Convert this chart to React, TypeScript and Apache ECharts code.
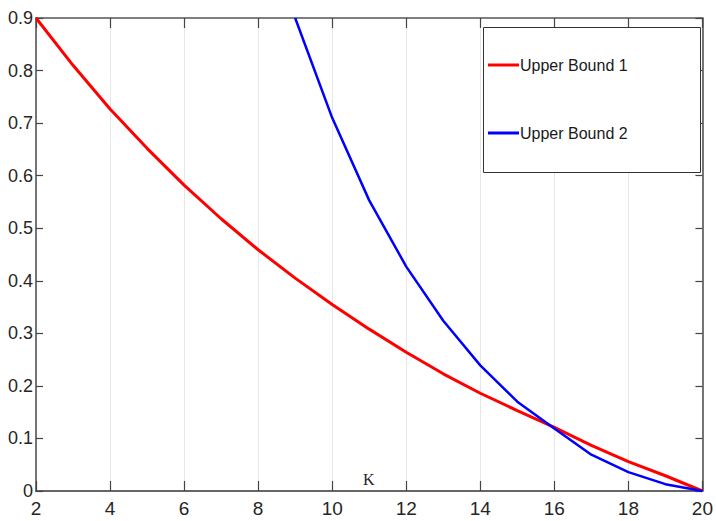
import React, { useEffect, useRef } from "react";
import * as echarts from "echarts";

const kValues = [2, 3, 4, 5, 6, 7, 8, 9, 10, 11, 12, 13, 14, 15, 16, 17, 18, 19, 20];
const upperBound1 = [0.9, 0.81, 0.727, 0.652, 0.582, 0.518, 0.459, 0.405, 0.355, 0.308, 0.264, 0.223, 0.186, 0.153, 0.121, 0.087, 0.056, 0.029, 0.0];
const blueK = [9, 10, 11, 12, 13, 14, 15, 16, 17, 18, 19, 20];
const upperBound2 = [0.9, 0.71, 0.553, 0.427, 0.324, 0.239, 0.17, 0.119, 0.069, 0.036, 0.013, 0.0];
const yTickLabels = ["0", "0.1", "0.2", "0.3", "0.4", "0.5", "0.6", "0.7", "0.8", "0.9"];
const seriesNames = ["Upper Bound 1", "Upper Bound 2"];
const xTitle = "K";

const FONT = "'Liberation Sans', Arial, sans-serif";

export default function App() {
  const ref = useRef<HTMLDivElement>(null);
  useEffect(() => {
    if (!ref.current) return;
    const chart = echarts.init(ref.current, null, { renderer: "svg" });
    const axisLineStyle = { color: "#555555", width: 1.6 };
    chart.setOption({
      animation: false,
      backgroundColor: "#ffffff",
      grid: { left: 36, right: 11, top: 18, bottom: 30, containLabel: false },
      xAxis: [
        {
          type: "value",
          min: 2,
          max: 20,
          interval: 2,
          axisLine: { show: true, onZero: false, lineStyle: { color: "#666666", width: 2 } },
          axisTick: { show: true, inside: true, length: 10, lineStyle: { color: "#444444", width: 1.2 } },
          axisLabel: { color: "#262626", fontFamily: FONT, fontSize: 19, margin: 8 },
          splitLine: { show: true, lineStyle: { color: "#e6e6e6", width: 1 } },
        },
        {
          type: "value",
          position: "top",
          min: 2,
          max: 20,
          interval: 2,
          axisLine: { show: true, onZero: false, lineStyle: axisLineStyle },
          axisTick: { show: true, inside: true, length: 10, lineStyle: { color: "#444444", width: 1.2 } },
          axisLabel: { show: false },
          splitLine: { show: false },
        },
      ],
      yAxis: [
        {
          type: "value",
          min: 0,
          max: 0.9,
          interval: 0.1,
          axisLine: { show: true, onZero: false, lineStyle: axisLineStyle },
          axisTick: { show: true, inside: true, length: 7, lineStyle: { color: "#444444", width: 1.2 } },
          axisLabel: {
            color: "#262626",
            fontFamily: FONT,
            fontSize: 18,
            margin: 3,
            formatter: (v: number) => yTickLabels[Math.round(v * 10)] ?? "",
          },
          splitLine: { show: false },
        },
        {
          type: "value",
          position: "right",
          min: 0,
          max: 0.9,
          interval: 0.1,
          axisLine: { show: true, onZero: false, lineStyle: axisLineStyle },
          axisTick: { show: true, inside: true, length: 7, lineStyle: { color: "#444444", width: 1.2 } },
          axisLabel: { show: false },
          splitLine: { show: false },
        },
      ],
      legend: {
        orient: "vertical",
        left: 488,
        top: 55,
        padding: 0,
        itemGap: 48,
        z: 100,
        zlevel: 0,
        icon: "rect",
        itemWidth: 31,
        itemHeight: 3,
        textStyle: { color: "#1a1a1a", fontFamily: FONT, fontSize: 16, lineHeight: 20, padding: [0, 0, 0, -4] },
        data: seriesNames,
      },
      graphic: [
        {
          type: "rect",
          left: 483,
          top: 27,
          z: 50,
          shape: { width: 217, height: 145 },
          style: { fill: "#ffffff", stroke: "#333333", lineWidth: 1 },
        },
        {
          type: "text",
          left: 363,
          top: 471,
          z: 60,
          style: { text: xTitle, fill: "#262626", font: "16px 'Liberation Serif', 'Times New Roman', serif" },
        },
      ],
      series: [
        {
          name: seriesNames[0],
          type: "line",
          data: kValues.map((k, i) => [k, upperBound1[i]]),
          symbol: "none",
          smooth: false,
          lineStyle: { color: "#ff0000", width: 3 },
          itemStyle: { color: "#ff0000" },
          z: 3,
        },
        {
          name: seriesNames[1],
          type: "line",
          data: blueK.map((k, i) => [k, upperBound2[i]]),
          symbol: "none",
          smooth: false,
          lineStyle: { color: "#0000ff", width: 2.5 },
          itemStyle: { color: "#0000ff" },
          z: 4,
        },
      ],
    });
    return () => chart.dispose();
  }, []);
  return (
    <div
      ref={ref}
      style={{ position: "fixed", left: 0, top: 0, width: 716, height: 521, background: "#ffffff" }}
    />
  );
}
